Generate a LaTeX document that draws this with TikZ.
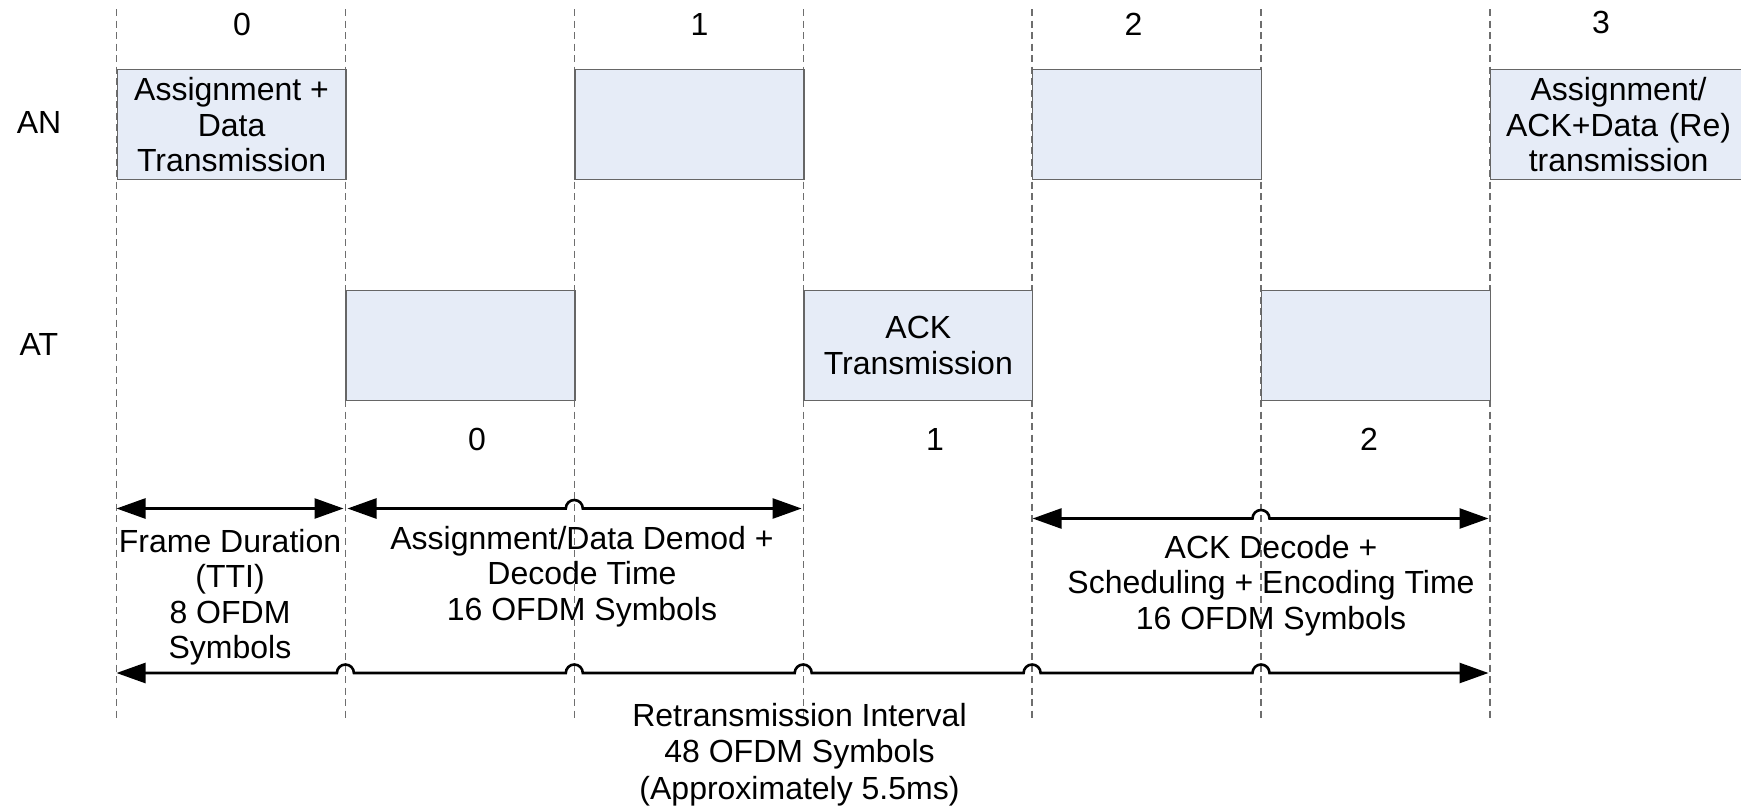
\documentclass[tikz,border=0pt]{standalone}
\usepackage{fontspec}
\setmainfont{Liberation Sans}
\usetikzlibrary{arrows.meta,calc}
\definecolor{slotfill}{RGB}{230,236,247}
\definecolor{gridgray}{RGB}{110,110,110}
\begin{document}
\begin{tikzpicture}[x=1pt,y=-1pt,
  font=\fontsize{32}{35.5}\selectfont,
  gridline/.style={draw=gridgray, line width=1.3pt, dash pattern=on 7pt off 4.5pt},
  slot/.style={draw=black!60, fill=slotfill, line width=1.3pt, minimum width=228.9pt,
    minimum height=110pt, inner sep=0pt, align=center, anchor=north west},
  lab/.style={align=center, inner sep=0pt},
  dimarrow/.style={line width=2.6pt, {Triangle[length=29pt,width=20pt]}-{Triangle[length=29pt,width=20pt]}},
]
\useasboundingbox (0,0) rectangle (1741,806);
\fill[white] (0,0) rectangle (1741,806);
\clip (0,0) rectangle (1741,806);

% grid coordinates
\foreach \k/\xx in {0/116.5,1/345.4,2/574.3,3/803.2,4/1032.1,5/1261.0,6/1489.9}{
  \coordinate (g\k) at (\xx,9);
  \coordinate (b\k) at (\xx,722);
}
\foreach \k in {0,...,6}{ \draw[gridline] (g\k) -- (b\k); }

% AN slots
\node[slot] (an0) at (116.5,69) {Assignment +\\Data\\Transmission};
\node[slot] (an1) at (574.3,69) {};
\node[slot] (an2) at (1032.1,69) {};
\node[slot, minimum width=256pt, text width=246pt, align=center] (an3) at (1489.9,69) {Assignment/\\ACK+Data (Re)\\transmission\hspace*{10pt}};
% AT slots
\node[slot] (at0) at (345.4,290) {};
\node[slot] (at1) at (803.2,290) {ACK\\Transmission};
\node[slot] (at2) at (1261.0,290) {};

% row labels
\node[lab] (lan) at (39,122) {AN};
\node[lab] (lat) at (39,344) {AT};

% top numbers
\node[lab] (t0) at (242,24) {0};
\node[lab] (t1) at (699.5,24) {1};
\node[lab] (t2) at (1133.6,24) {2};
\node[lab] (t3) at (1601,22) {3};
% lower numbers
\node[lab] (u0) at (477,439) {0};
\node[lab] (u1) at (935,439) {1};
\node[lab] (u2) at (1369,439) {2};

% arrow end points
\coordinate (fa) at (116.5,508.5);
\coordinate (fb) at (343.5,508.5);
\coordinate (da) at (347.5,508.5);
\coordinate (db) at (801.6,508.5);
\coordinate (ka) at (1032.6,518.5);
\coordinate (kb) at (1488.5,518.5);
\coordinate (ra) at (116.5,673);
\coordinate (rb) at (1488.5,673);

\draw[dimarrow] (fa) -- (fb);
\draw[dimarrow] (da) -- ($(da -| g2)+(-8.5,0)$) arc[start angle=180,end angle=0,radius=8.5pt] -- (db);
\draw[dimarrow] (ka) -- ($(ka -| g5)+(-8.5,0)$) arc[start angle=180,end angle=0,radius=8.5pt] -- (kb);
\draw[dimarrow] (ra)
  -- ($(ra -| g1)+(-8.5,0)$) arc[start angle=180,end angle=0,radius=8.5pt]
  -- ($(ra -| g2)+(-8.5,0)$) arc[start angle=180,end angle=0,radius=8.5pt]
  -- ($(ra -| g3)+(-8.5,0)$) arc[start angle=180,end angle=0,radius=8.5pt]
  -- ($(ra -| g4)+(-8.5,0)$) arc[start angle=180,end angle=0,radius=8.5pt]
  -- ($(ra -| g5)+(-8.5,0)$) arc[start angle=180,end angle=0,radius=8.5pt]
  -- (rb);

% dimension labels
\node[lab] (lf) at (230,597) {Frame Duration\\(TTI)\\8 OFDM\\Symbols};
\node[lab] (ld) at (582,576.5) {Assignment/Data Demod +\\Decode Time\\16 OFDM Symbols};
\node[lab] (lk) at (1271,585.5) {ACK Decode +\\Scheduling + Encoding Time\\16 OFDM Symbols};
\node[lab, font=\fontsize{32}{36.5}\selectfont] (lr) at (799.5,754.5) {Retransmission Interval\\48 OFDM Symbols\\(Approximately 5.5ms)};
\end{tikzpicture}
\end{document}
